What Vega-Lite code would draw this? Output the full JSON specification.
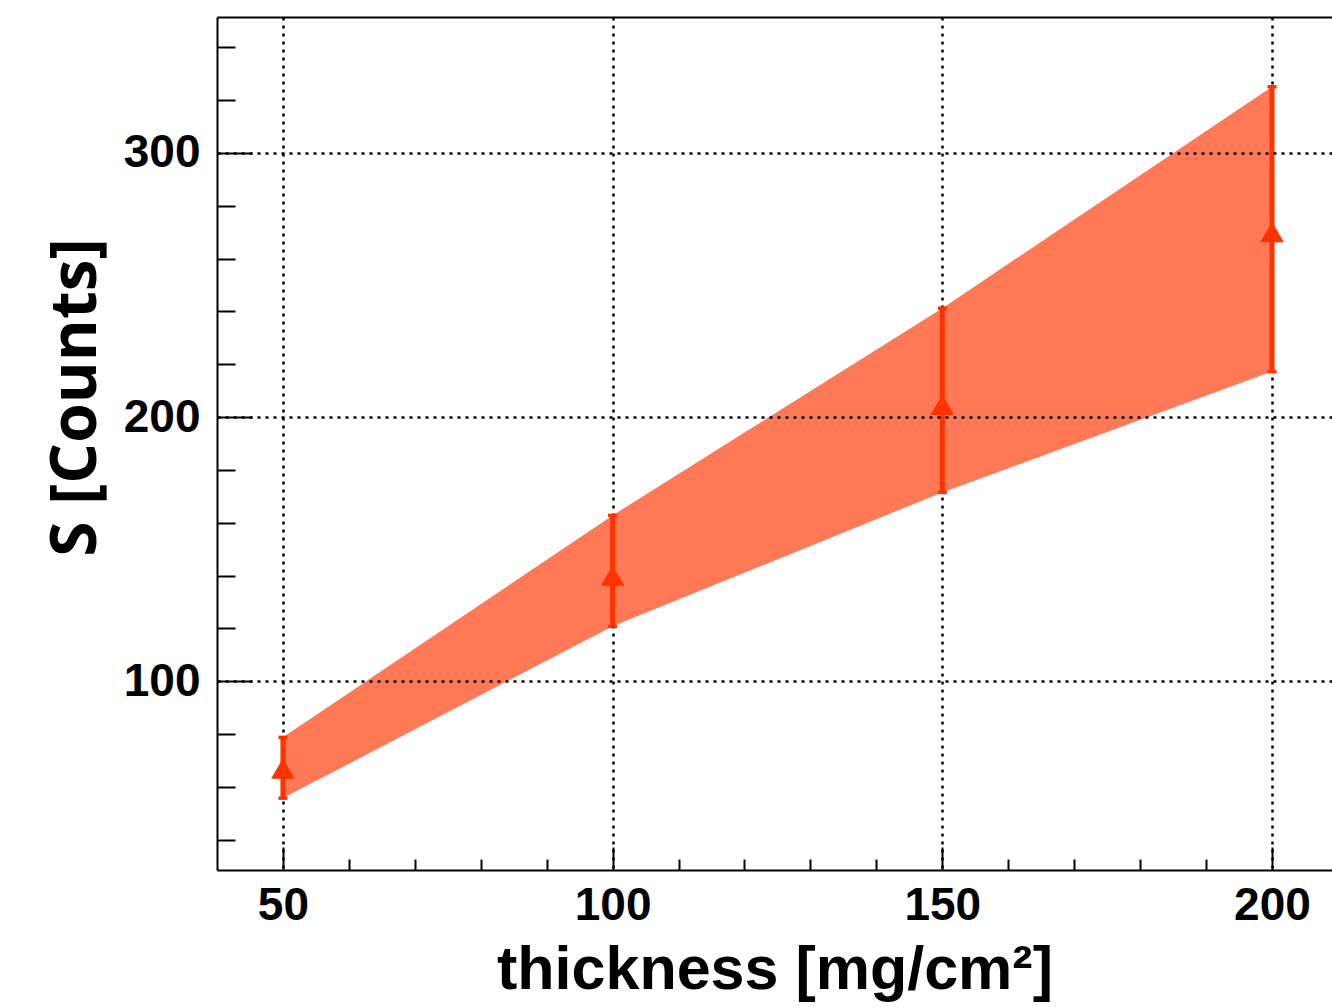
{
  "$schema": "https://vega.github.io/schema/vega-lite/v6.json",
  "width": 1115,
  "height": 853,
  "autosize": "none",
  "padding": {"left": 217, "top": 17, "right": 0, "bottom": 137},
  "background": "white",
  "config": {"view": {"stroke": null}},
  "data": {
    "values": [
      {"x": 50, "y": 67, "lo": 55.8, "hi": 78.8},
      {"x": 100, "y": 140, "lo": 120.8, "hi": 162.8},
      {"x": 150, "y": 204.7, "lo": 171.5, "hi": 241.2},
      {"x": 200, "y": 270, "lo": 217.2, "hi": 325}
    ]
  },
  "resolve": {"axis": {"x": "independent", "y": "independent"}},
  "layer": [
    {
      "mark": {"type": "area", "color": "#ff3300", "opacity": 0.66},
      "encoding": {
        "x": {
          "field": "x", "type": "quantitative",
          "scale": {"domain": [40, 209.1], "nice": false, "zero": false},
          "axis": {
            "orient": "bottom", "values": [50, 100, 150, 200],
            "tickSize": -23, "tickWidth": 2, "tickColor": "black",
            "domainColor": "black", "domainWidth": 2,
            "grid": true, "gridColor": "black", "gridDash": [3, 5], "gridWidth": 2.5, "gridOpacity": 1,
            "labelFont": "Liberation Sans", "labelFontWeight": "bold", "labelFontSize": 46, "labelColor": "black",
            "labelPadding": 36, "labelBaseline": "top", "labelFlush": false,
            "title": "thickness [mg/cm²]", "titleFont": "Liberation Sans", "titleFontSize": 61, "titleFontWeight": "bold",
            "titleColor": "black", "titleBaseline": "alphabetic", "titleY": 118,
            "zindex": 0
          }
        },
        "y": {
          "field": "lo", "type": "quantitative",
          "scale": {"domain": [28.6, 351.4], "nice": false, "zero": false},
          "axis": {
            "orient": "left", "values": [100, 200, 300],
            "tickSize": -35, "tickWidth": 2, "tickColor": "black",
            "domainColor": "black", "domainWidth": 2,
            "grid": true, "gridColor": "black", "gridDash": [3, 5], "gridWidth": 2.5, "gridOpacity": 1,
            "labelFont": "Liberation Sans", "labelFontWeight": "bold", "labelFontSize": 46, "labelColor": "black",
            "labelPadding": 52, "labelBaseline": "middle", "labelFlush": false,
            "title": "S [Counts]", "titleFont": "Open Sans", "titleFontSize": 64, "titleFontWeight": "bold",
            "titleColor": "black", "titleAngle": 270, "titleBaseline": "alphabetic", "titleAlign": "center",
            "titleX": -122, "titleY": 380,
            "zindex": 1
          }
        },
        "y2": {"field": "hi"}
      }
    },
    {
      "mark": {"type": "rule", "color": "#ff3300", "strokeWidth": 5},
      "encoding": {
        "x": {
          "field": "x", "type": "quantitative",
          "axis": {
            "orient": "bottom", "values": [60, 70, 80, 90, 110, 120, 130, 140, 160, 170, 180, 190],
            "tickSize": -11, "tickWidth": 2, "tickColor": "black", "domain": false, "grid": false,
            "labels": false, "title": null
          }
        },
        "y": {
          "field": "lo", "type": "quantitative",
          "axis": {
            "orient": "left", "values": [40, 60, 80, 120, 140, 160, 180, 220, 240, 260, 280, 320, 340],
            "tickSize": -18, "tickWidth": 2, "tickColor": "black", "domain": false, "grid": false,
            "labels": false, "title": null
          }
        },
        "y2": {"field": "hi"}
      }
    },
    {
      "mark": {"type": "tick", "color": "#ff3300", "orient": "horizontal", "size": 9, "thickness": 3.5, "opacity": 1},
      "encoding": {
        "x": {
          "field": "x", "type": "quantitative",
          "axis": {
            "orient": "top", "ticks": false, "labels": false, "grid": false, "title": null,
            "domain": true, "domainColor": "black", "domainWidth": 2
          }
        },
        "y": {"field": "lo", "type": "quantitative", "axis": null}
      }
    },
    {
      "mark": {"type": "tick", "color": "#ff3300", "orient": "horizontal", "size": 9, "thickness": 3.5, "opacity": 1},
      "encoding": {
        "x": {"field": "x", "type": "quantitative", "axis": null},
        "y": {"field": "hi", "type": "quantitative", "axis": null}
      }
    },
    {
      "mark": {"type": "point", "shape": "triangle-up", "filled": true, "color": "#ff3300", "opacity": 1, "size": 560},
      "encoding": {
        "x": {"field": "x", "type": "quantitative", "axis": null},
        "y": {"field": "y", "type": "quantitative", "axis": null}
      }
    }
  ]
}
